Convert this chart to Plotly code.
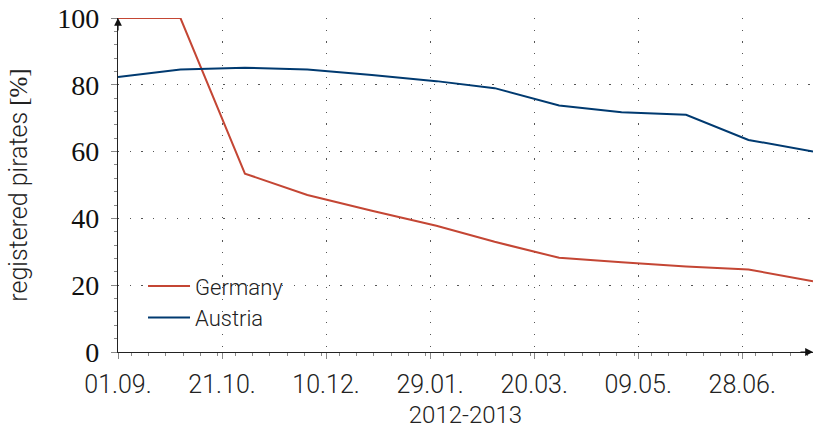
import plotly.graph_objects as go

dates = ["2012-09-01", "2012-10-01", "2012-11-01", "2012-12-01", "2013-01-01", "2013-02-01",
         "2013-03-01", "2013-04-01", "2013-05-01", "2013-06-01", "2013-07-01", "2013-08-01"]
germany = [100, 100, 53.4, 47.0, 42.3, 37.8, 33.0, 28.2, 26.9, 25.6, 24.7, 21.2]
austria = [82.3, 84.6, 85.1, 84.6, 82.9, 81.1, 79.0, 73.8, 71.8, 71.0, 63.5, 60.0]

x_tick_start = "2012-09-01"
x_range = ["2012-09-01", "2013-08-01"]
y_ticks = [0, 20, 40, 60, 80, 100]

RED = "rgb(196,70,52)"
BLUE = "rgb(0,58,112)"
DAY = 86400000

sans = "Roboto"
serif = "Liberation Serif"

fig = go.Figure()
fig.add_trace(go.Scatter(x=dates, y=germany, mode="lines", name="Germany",
                         line=dict(color=RED, width=2)))
fig.add_trace(go.Scatter(x=dates, y=austria, mode="lines", name="Austria",
                         line=dict(color=BLUE, width=2)))

fig.update_layout(
    width=815, height=429,
    margin=dict(l=118, r=2, t=18, b=77, autoexpand=False),
    plot_bgcolor="white", paper_bgcolor="white",
    showlegend=True,
    legend=dict(x=0.036, y=0.26, xanchor="left", yanchor="top",
                bgcolor="rgba(0,0,0,0)", borderwidth=0,
                font=dict(family=sans, size=22, color="#222", weight=300),
                itemwidth=42),
)

fig.update_xaxes(
    type="date", range=x_range, automargin=False,
    tick0=x_tick_start, dtick=50 * DAY, tickformat="%d.%m.",
    showgrid=True, gridcolor="#555", griddash="1.2px,10.5px", gridwidth=1,
    showline=True, linecolor="#222", linewidth=1.2,
    ticks="outside", ticklen=6, tickcolor="#888", ticklabelstandoff=4,
    tickfont=dict(family=sans, size=25, color="#222", weight=300),
    minor=dict(dtick=50 * DAY / 6, ticks="outside", ticklen=3, tickcolor="#888", showgrid=False),
    zeroline=False,
    title=dict(text="2012-2013", font=dict(family=sans, size=24, color="#222", weight=300), standoff=16),
)
fig.update_yaxes(
    range=[0, 100], tickvals=y_ticks, automargin=False,
    showgrid=True, gridcolor="#555", griddash="1.2px,10.5px", gridwidth=1,
    showline=True, linecolor="#222", linewidth=1.2,
    ticks="outside", ticklen=6, tickcolor="#888", ticklabelstandoff=6,
    ticklabeloverflow="allow",
    tickfont=dict(family=serif, size=28, color="#111"),
    minor=dict(dtick=4, ticks="outside", ticklen=3, tickcolor="#888", showgrid=False),
    zeroline=False,
    title=dict(text="registered pirates <span style='font-family:Liberation Serif'>[%]</span>",
               font=dict(family=sans, size=25, color="#222", weight=300), standoff=22),
)

fig.add_annotation(x=1, y=0, xref="paper", yref="paper", ax=-14, ay=0, text="",
                   showarrow=True, arrowhead=2, arrowsize=1.3, arrowwidth=1.2, arrowcolor="#111")
fig.add_annotation(x=0, y=1, xref="paper", yref="paper", ax=0, ay=14, text="",
                   showarrow=True, arrowhead=2, arrowsize=1.3, arrowwidth=1.2, arrowcolor="#111")

# remove the default 8px page margin so the figure sits at the window's top-left corner
fig.write_html("out.html", config={"displayModeBar": False},
               post_script="document.body.style.margin='0';")
